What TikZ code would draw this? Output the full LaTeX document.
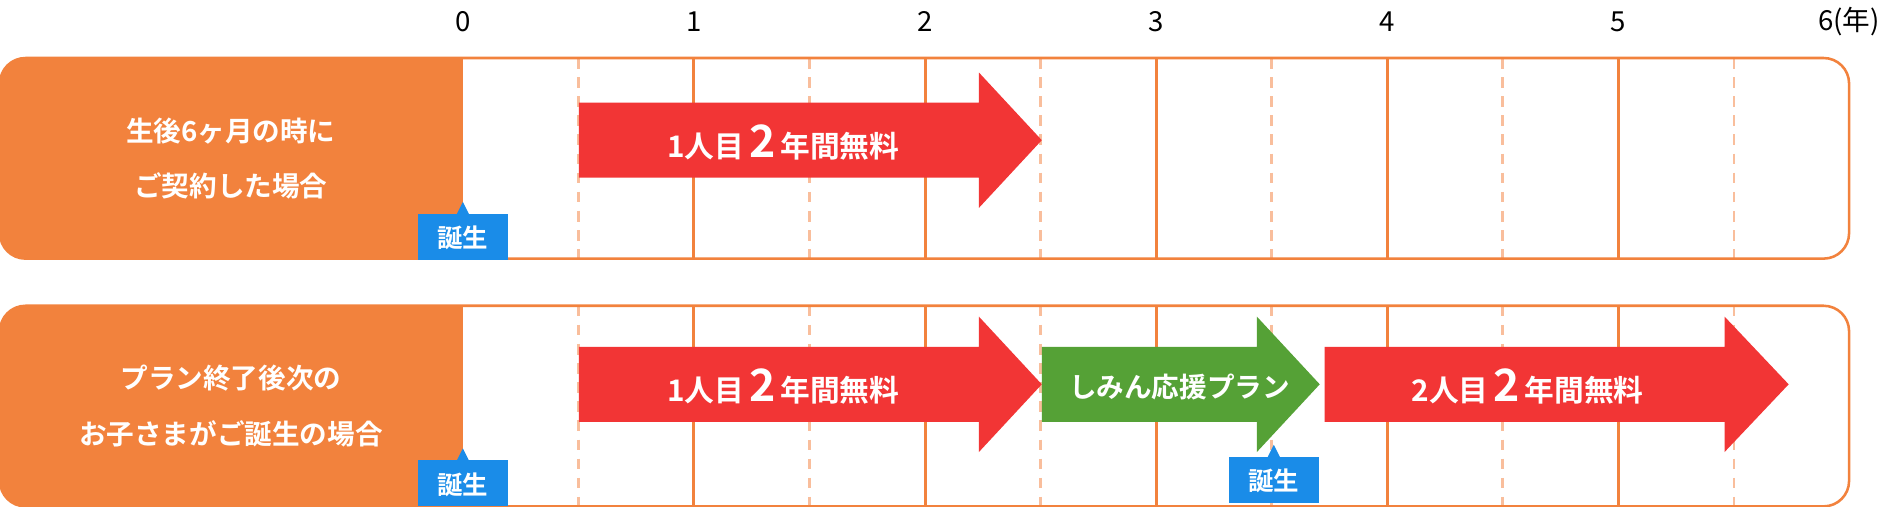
\documentclass[tikz,border=0pt]{standalone}
\usepackage{fontspec}
\setmainfont{Noto Sans CJK JP}[BoldFont={* Bold}]
\usetikzlibrary{positioning}
\definecolor{panelorange}{HTML}{F2823D}
\definecolor{freered}{HTML}{F23535}
\definecolor{plangreen}{HTML}{55A136}
\definecolor{tagblue}{HTML}{1A8CE8}
\definecolor{halfline}{HTML}{F9BE9C}
\newcommand\bignum[1]{{\fontsize{21}{22}\selectfont #1}}

\begin{document}
\begin{tikzpicture}[x=0.02cm, y=-0.02cm,
  yearline/.style={panelorange, line width=1.4pt},
  halfyear/.style={halfline, line width=1.2pt, dash pattern=on 5pt off 4pt},
  frame/.style={draw=panelorange, line width=1.2pt, rounded corners=12pt},
  caselabel/.style={text=white, font=\bfseries\fontsize{13}{26}\selectfont, align=center},
  arrowtext/.style={text=white, font=\bfseries\fontsize{14}{16}\selectfont},
  tagtext/.style={text=white, font=\bfseries\fontsize{12}{14}\selectfont},
  yearnum/.style={font=\fontsize{13}{14}\selectfont}
]
\useasboundingbox (0,0) rectangle (1568,419);

% year numbers
\foreach \n in {0,...,5} {
  \node[yearnum] (y\n) at ({383+191.2*\n},18) {\n};
}
\node[yearnum] (y6) at (1530,18) {6(年)};

% two rows
\foreach \top/\rname in {48/one,253/two} {
  \fill[white] (0,\top) rectangle (1530,{\top+166});
  \foreach \n in {1,...,5}
    \draw[yearline] ({383+191.2*\n},\top) -- ({383+191.2*\n},{\top+166});
  \foreach \n in {0,...,5}
    \draw[halfyear] ({478.6+191.2*\n},\top) -- ({478.6+191.2*\n},{\top+166});
  \draw[frame] (0,\top) rectangle (1530,{\top+166});
  \fill[panelorange, rounded corners=12pt] (0,\top) -- (383,\top) -- (383,{\top+166}) -- (0,{\top+166}) -- cycle;
  \fill[panelorange] (200,\top) rectangle (383,{\top+166});
}

% case labels
\node[caselabel] (caseA) at (191,131) {生後6ヶ月の時に\\ご契約した場合};
\node[caselabel] (caseB) at (191,336) {プラン終了後次の\\お子さまがご誕生の場合};

% arrows
\fill[freered] (479,85) -- (810,85) -- (810,60) -- (862,116) -- (810,172) -- (810,147) -- (479,147) -- cycle;
\node[arrowtext] (freeA) at (648,118) {1人目\,\bignum{2}\,年間無料};

\fill[freered] (479,287) -- (810,287) -- (810,262) -- (862,318) -- (810,374) -- (810,349) -- (479,349) -- cycle;
\node[arrowtext] (freeB) at (648,320) {1人目\,\bignum{2}\,年間無料};

\fill[plangreen] (862,287) -- (1040,287) -- (1040,262) -- (1092,318) -- (1040,374) -- (1040,349) -- (862,349) -- cycle;
\node[arrowtext, font=\bfseries\fontsize{13}{15}\selectfont] (plan) at (976,320) {しみん応援プラン};

\fill[freered] (1096,287) -- (1427,287) -- (1427,262) -- (1480,318) -- (1427,374) -- (1427,349) -- (1096,349) -- cycle;
\node[arrowtext] (freeC) at (1264,320) {2人目\,\bignum{2}\,年間無料};

% birth tags
\foreach \cx/\ty/\tname in {383/177/tagA,383/381/tagB,1054/378/tagC} {
  \fill[tagblue] ({\cx-37},\ty) rectangle ({\cx+37},{\ty+38});
  \fill[tagblue] ({\cx-5},\ty) -- (\cx,{\ty-10}) -- ({\cx+5},\ty) -- cycle;
  \node[tagtext] (\tname) at (\cx,{\ty+20}) {誕生};
}
\end{tikzpicture}
\end{document}
